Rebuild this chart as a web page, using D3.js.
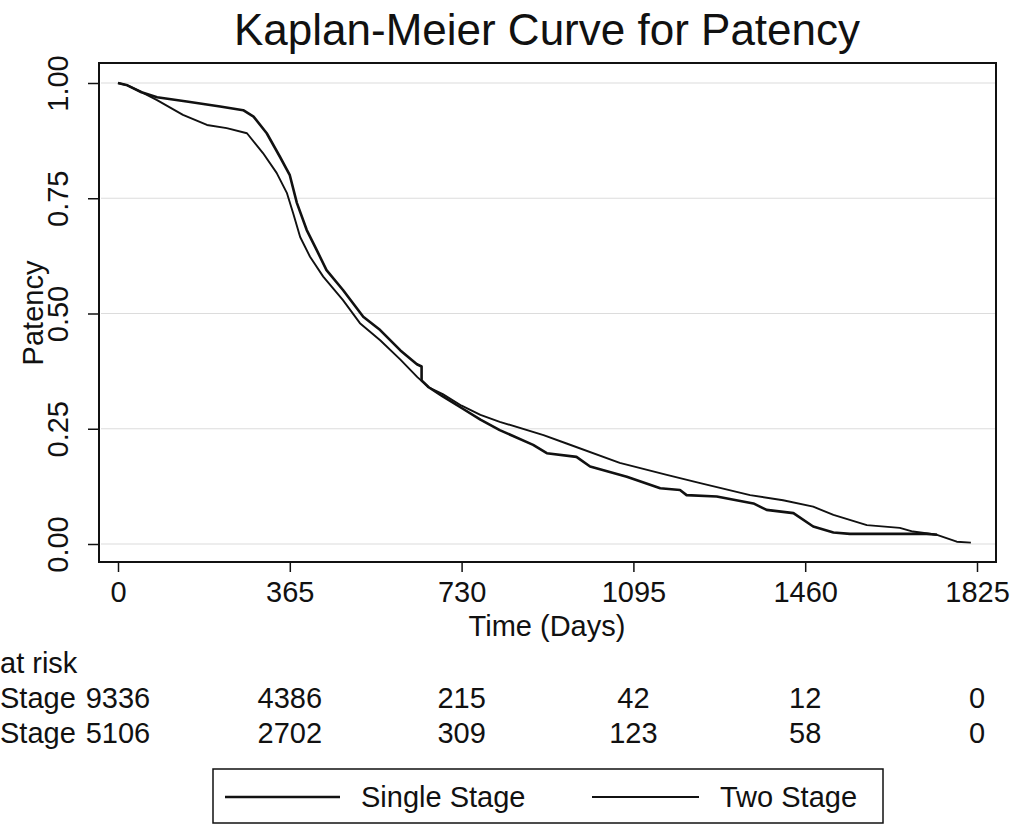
<!DOCTYPE html>
<html>
<head>
<meta charset="utf-8">
<script src="https://cdn.jsdelivr.net/npm/d3@7"></script>
<style>
    body { margin: 0; background: #fff; }
    text { font-family: "Liberation Sans", Arial, sans-serif; fill: #111; }
</style>
</head>
<body>
<svg id="chart" width="1026" height="825"></svg>
<script>
// days / patency
let singleDays = [0, 20, 50, 83, 146, 217, 266, 288, 316, 344, 365, 380, 401, 422, 443, 478, 521, 557, 600, 635, 645, 645, 660, 690, 730, 770, 811, 882, 911, 974, 1003, 1081, 1152, 1194, 1208, 1272, 1350, 1378, 1435, 1477, 1520, 1555, 1718, 1740];
let singleSurv = [1, 0.995, 0.98, 0.969, 0.96, 0.949, 0.941, 0.927, 0.891, 0.84, 0.8, 0.74, 0.681, 0.638, 0.594, 0.551, 0.493, 0.464, 0.42, 0.39, 0.385, 0.355, 0.34, 0.32, 0.295, 0.27, 0.247, 0.215, 0.197, 0.189, 0.168, 0.146, 0.121, 0.117, 0.106, 0.103, 0.088, 0.074, 0.067, 0.038, 0.025, 0.022, 0.022, 0.02];

let twoDays = [0, 20, 50, 83, 138, 189, 231, 274, 308, 337, 359, 372, 387, 408, 436, 478, 514, 557, 600, 636, 660, 690, 730, 770, 811, 904, 953, 1066, 1166, 1237, 1343, 1413, 1477, 1520, 1591, 1661, 1689, 1740, 1782, 1812];
let twoSurv = [1, 0.995, 0.98, 0.963, 0.931, 0.909, 0.902, 0.891, 0.848, 0.805, 0.761, 0.718, 0.666, 0.623, 0.58, 0.529, 0.479, 0.442, 0.4, 0.362, 0.34, 0.325, 0.3, 0.28, 0.265, 0.236, 0.218, 0.176, 0.15, 0.132, 0.106, 0.095, 0.081, 0.063, 0.041, 0.035, 0.027, 0.02, 0.005, 0.003];

let groupNames = ["Single Stage", "Two Stage"];
// row titles as they show in the (left-cropped) picture
let rowTitles = ["Stage", "Stage"];
let xTicks = [0, 365, 730, 1095, 1460, 1825];
let yTicks = [0, 0.25, 0.5, 0.75, 1];
let atRiskSingle = [9336, 4386, 215, 42, 12, 0];
let atRiskTwo = [5106, 2702, 309, 123, 58, 0];

let kmChart = (element) => {
    let svg = d3.select(element);

    let x = d3.scaleLinear().domain([0, 1825]).range([118, 977]);
    let y = d3.scaleLinear().domain([0, 1]).range([544, 83]);

    // grid
    svg.append("g")
        .selectAll("line")
        .data(yTicks)
        .enter()
        .append("line")
        .attr("x1", 101)
        .attr("x2", 995)
        .attr("y1", (d) => {
            return y(d)
        })
        .attr("y2", (d) => {
            return y(d)
        })
        .style("stroke", "#dcdcdc")
        .style("stroke-width", 1.2);

    // axes
    let xAxis = svg.append("g")
        .attr("transform", "translate(0, 562)")
        .call(d3.axisBottom(x).tickValues(xTicks).tickSize(10).tickFormat(d3.format("d")));
    xAxis.select(".domain").remove();
    xAxis.selectAll("line").style("stroke", "#111").style("stroke-width", 1.5);
    xAxis.selectAll("text")
        .attr("y", 40)
        .attr("dy", null)
        .style("font-size", "29px")
        .style("fill", "#111");

    let yAxis = svg.append("g")
        .attr("transform", "translate(99, 0)")
        .call(d3.axisLeft(y).tickValues(yTicks).tickSize(11).tickFormat(d3.format(".2f")));
    yAxis.select(".domain").remove();
    yAxis.selectAll("line").style("stroke", "#111").style("stroke-width", 1.5);
    yAxis.selectAll("text")
        .attr("transform", "rotate(-90)")
        .attr("x", 0)
        .attr("y", -31)
        .attr("dy", null)
        .attr("text-anchor", "middle")
        .style("font-size", "29px")
        .style("fill", "#111");

    // frame
    svg.append("rect")
        .attr("x", 99)
        .attr("y", 63)
        .attr("width", 897)
        .attr("height", 499)
        .style("fill", "none")
        .style("stroke", "#111")
        .style("stroke-width", 2);

    // curves
    let line = d3.line()
        .x((d) => {
            return x(d[0])
        })
        .y((d) => {
            return y(d[1])
        });

    let curves = [
        {pts: d3.zip(twoDays, twoSurv), width: 1.9},
        {pts: d3.zip(singleDays, singleSurv), width: 2.6}
    ];
    svg.selectAll(".km")
        .data(curves)
        .enter()
        .append("path")
        .attr("class", "km")
        .attr("d", (d) => {
            return line(d.pts)
        })
        .style("fill", "none")
        .style("stroke", "#111")
        .style("stroke-width", (d) => {
            return d.width
        })
        .style("stroke-linejoin", "round");

    // titles
    svg.append("text")
        .attr("x", 547)
        .attr("y", 45)
        .attr("text-anchor", "middle")
        .style("font-size", "44px")
        .text("Kaplan-Meier Curve for Patency");

    svg.append("text")
        .attr("x", 547)
        .attr("y", 636)
        .attr("text-anchor", "middle")
        .style("font-size", "29px")
        .text("Time (Days)");

    svg.append("text")
        .attr("transform", "translate(43, 313) rotate(-90)")
        .attr("text-anchor", "middle")
        .style("font-size", "29px")
        .text("Patency");

    // number at risk table
    svg.append("text")
        .attr("x", 0)
        .attr("y", 673)
        .style("font-size", "29px")
        .text("at risk");

    let rows = [atRiskSingle, atRiskTwo];
    rows.forEach((row, i) => {
        let rowY = 708 + i * 35;
        svg.append("text")
            .attr("x", 0)
            .attr("y", rowY)
            .style("font-size", "29px")
            .text(rowTitles[i]);
        svg.append("g")
            .selectAll("text")
            .data(row)
            .enter()
            .append("text")
            .attr("x", (d, j) => {
                return x(xTicks[j])
            })
            .attr("y", rowY)
            .attr("text-anchor", "middle")
            .style("font-size", "29px")
            .text((d) => {
                return d
            });
    });

    // legend
    let legend = svg.append("g");
    legend.append("rect")
        .attr("x", 213)
        .attr("y", 769)
        .attr("width", 670)
        .attr("height", 54)
        .style("fill", "none")
        .style("stroke", "#111")
        .style("stroke-width", 1.5);

    let legendItems = [
        {name: groupNames[0], x1: 225, x2: 340, width: 2.6},
        {name: groupNames[1], x1: 592, x2: 699, width: 1.9}
    ];
    let items = legend.selectAll(".item")
        .data(legendItems)
        .enter()
        .append("g")
        .attr("class", "item");
    items.append("line")
        .attr("x1", (d) => {
            return d.x1
        })
        .attr("x2", (d) => {
            return d.x2
        })
        .attr("y1", 797)
        .attr("y2", 797)
        .style("stroke", "#111")
        .style("stroke-width", (d) => {
            return d.width
        });
    items.append("text")
        .attr("x", (d) => {
            return d.x2 + 21
        })
        .attr("y", 807)
        .style("font-size", "29px")
        .text((d) => {
            return d.name
        });
}

kmChart("#chart")
</script>
</body>
</html>
